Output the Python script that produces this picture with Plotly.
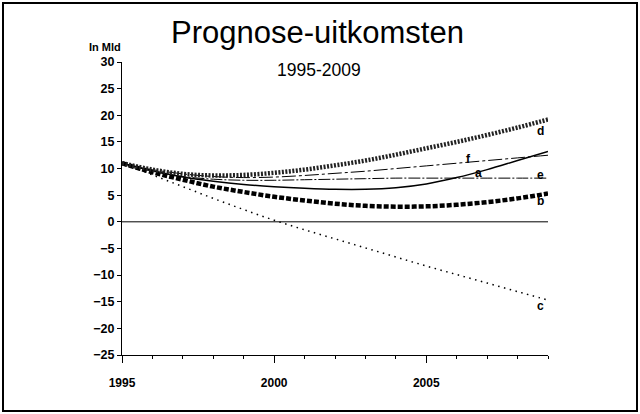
import plotly.graph_objects as go

years = list(range(1995, 2010))
series_a = [11, 9.6, 8.4, 7.6, 7.0, 6.6, 6.3, 6.1, 6.1, 6.4, 7.1, 8.3, 9.8, 11.5, 13.2]
series_b = [11, 9.3, 7.9, 6.6, 5.6, 4.7, 4.0, 3.4, 3.0, 2.85, 2.9, 3.2, 3.7, 4.4, 5.3]
series_c = [11, 8.8, 6.6, 4.4, 2.3, 0.3, -1.5, -3.2, -4.9, -6.6, -8.3, -9.9, -11.5, -13.1, -14.7]
series_d = [11, 9.8, 9.0, 8.7, 8.8, 9.2, 9.8, 10.6, 11.5, 12.6, 13.8, 15.0, 16.3, 17.7, 19.2]
series_e = [11, 9.5, 8.5, 8.0, 7.8, 7.8, 7.9, 8.0, 8.1, 8.2, 8.2, 8.2, 8.2, 8.2, 8.2]
series_f = [11, 9.8, 9.0, 8.5, 8.3, 8.4, 8.7, 9.1, 9.5, 10.0, 10.5, 11.0, 11.5, 12.0, 12.5]

series_names = ["a", "b", "c", "d", "e", "f"]
label_x = [2006.7, 2008.75, 2008.75, 2008.75, 2008.75, 2006.4]
label_y = [9.2, 3.9, -15.8, 17.1, 8.8, 11.8]

x_tick_vals = [1995, 2000, 2005]
x_tick_text = ["1995", "2000", "2005"]
y_tick_vals = [30, 25, 20, 15, 10, 5, 0, -5, -10, -15, -20, -25]

title_text = "Prognose-uitkomsten"
subtitle_text = "1995-2009"
unit_text = "In Mld"

styles = {
    "a": dict(color="black", width=1.5, dash="solid"),
    "b": dict(color="black", width=4.5, dash="5px,2px"),
    "c": dict(color="black", width=1.5, dash="1.5px,4.5px"),
    "d": dict(color="#222", width=4.5, dash="2px,1.5px"),
    "e": dict(color="black", width=1, dash="12px,2px,2px,2px"),
    "f": dict(color="black", width=1, dash="14px,3px,3px,3px"),
}
data = {"a": series_a, "b": series_b, "c": series_c, "d": series_d, "e": series_e, "f": series_f}

fig = go.Figure()
# zero line
fig.add_hline(y=0, line=dict(color="black", width=1))

for name in ["c", "b", "e", "a", "f", "d"]:
    fig.add_trace(go.Scatter(x=years, y=data[name], mode="lines", line_shape="spline",
                             line=styles[name], showlegend=False, hoverinfo="skip"))

font_base = dict(family="Liberation Sans, Arial, sans-serif", color="black")
for n, lx, ly in zip(series_names, label_x, label_y):
    fig.add_annotation(x=lx, y=ly, text=n, showarrow=False,
                       font=dict(size=12, weight="bold", **font_base))

fig.add_annotation(xref="paper", yref="paper", x=0.46, y=1.099, text=title_text,
                   showarrow=False, font=dict(size=31, **font_base), yanchor="middle")
fig.add_annotation(xref="paper", yref="paper", x=0.4624, y=0.9727, text=subtitle_text,
                   showarrow=False, font=dict(size=17.5, **font_base), yanchor="middle")
fig.add_annotation(xref="paper", yref="paper", x=-0.082, y=1.051, text=unit_text,
                   showarrow=False, font=dict(size=11, weight="bold", **font_base), yanchor="middle")

# outer border
fig.add_shape(type="rect", xref="paper", yref="paper",
              x0=(3 - 122) / 426, x1=(637 - 122) / 426,
              y0=(355 - 411) / 293, y1=(355 - 3) / 293,
              line=dict(color="black", width=2))

fig.update_layout(
    width=640, height=414,
    margin=dict(l=122, r=92, t=62, b=59),
    paper_bgcolor="white", plot_bgcolor="white",
    font=font_base,
)
fig.update_xaxes(range=[1995, 2009], tickvals=x_tick_vals, ticktext=x_tick_text,
                 showgrid=False, zeroline=False, showline=True, linecolor="black", linewidth=1,
                 ticks="outside", ticklen=7, tickcolor="black",
                 minor=dict(dtick=1, tick0=1995, ticks="outside", ticklen=3, tickcolor="black", showgrid=False),
                 tickfont=dict(size=12, weight="bold", **font_base), ticklabelstandoff=10)
fig.update_yaxes(range=[-25, 30], tickvals=y_tick_vals,
                 showgrid=False, zeroline=False, showline=True, linecolor="black", linewidth=1,
                 ticks="outside", ticklen=4, tickcolor="black",
                 tickfont=dict(size=12.5, weight="bold", **font_base))

fig.write_html("out.html")
